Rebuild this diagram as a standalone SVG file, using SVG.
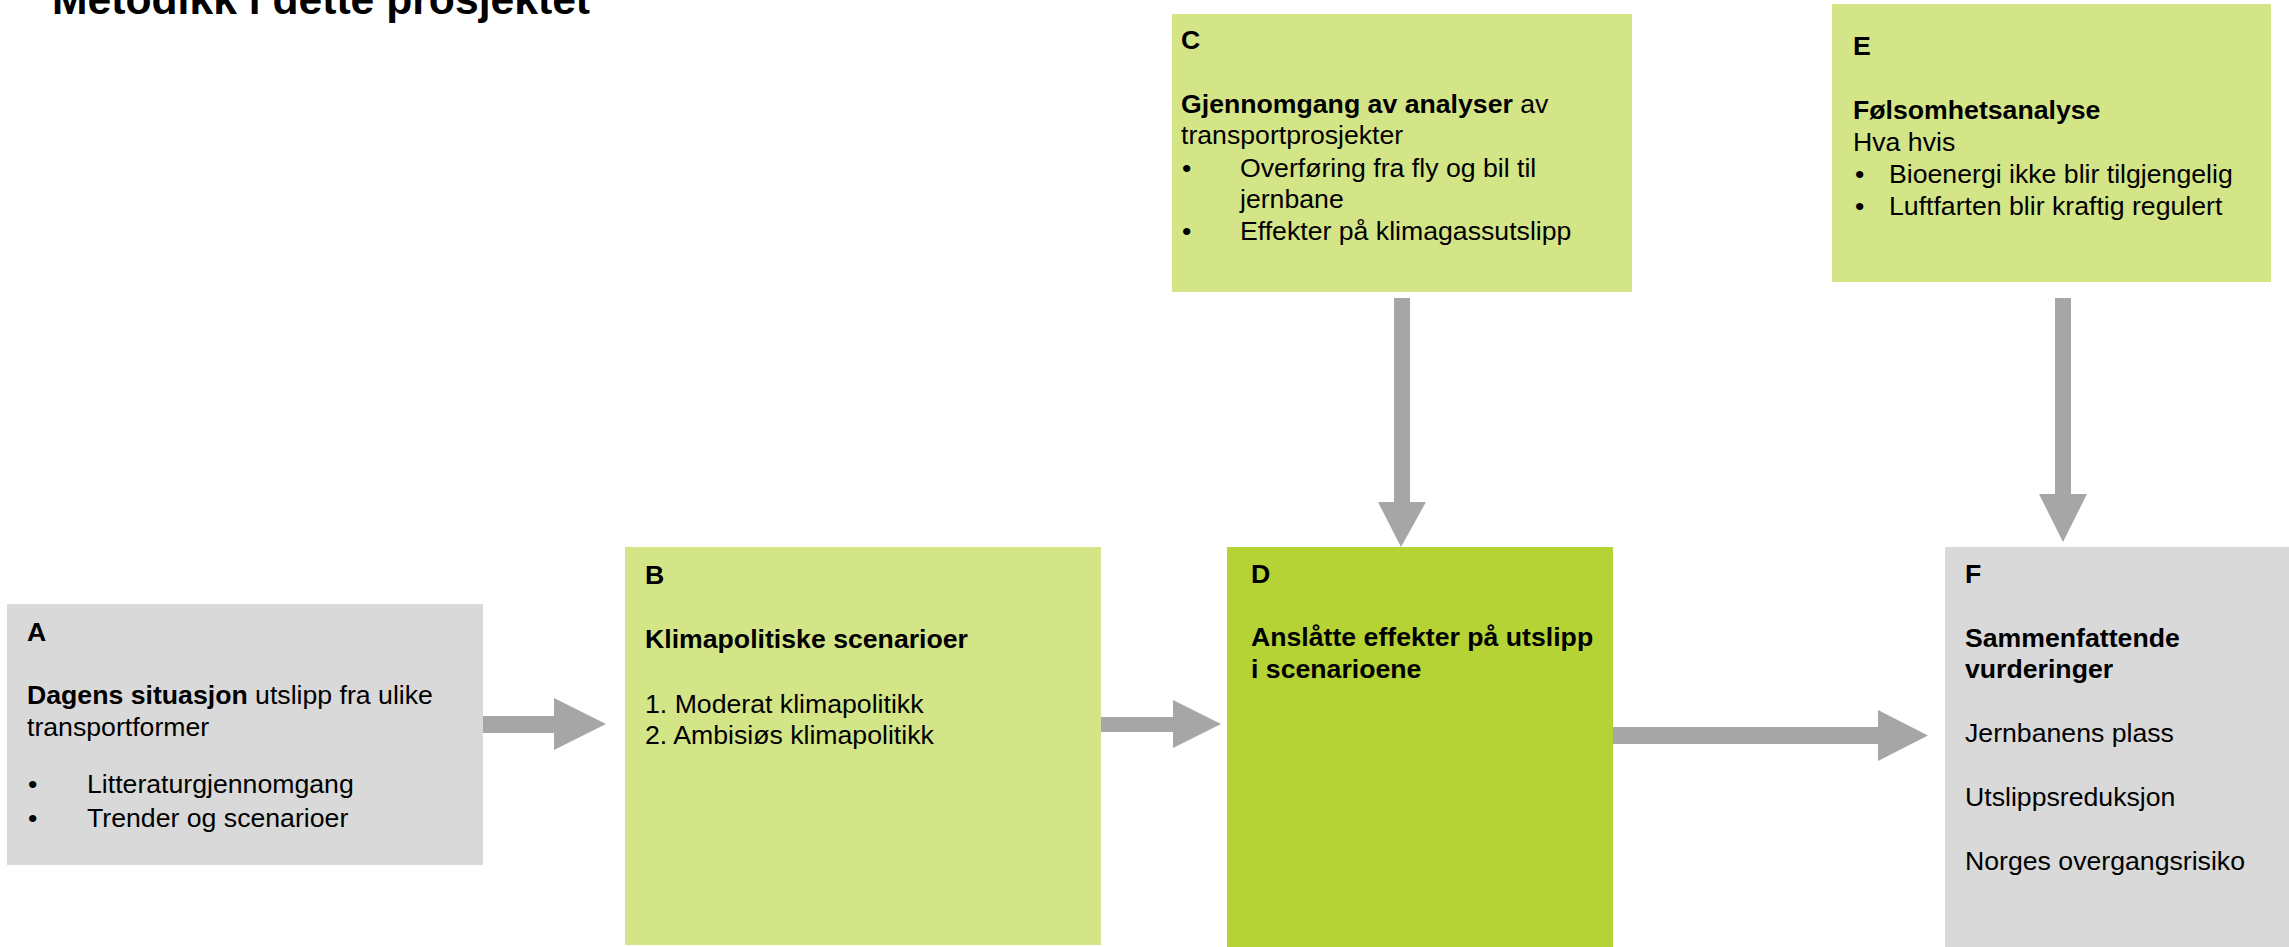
<svg xmlns="http://www.w3.org/2000/svg" width="2289" height="947" viewBox="0 0 2289 947">
<style>
text{font-family:"Liberation Sans",Arial,sans-serif;font-size:26.67px;fill:#000}
.b{font-weight:bold}
.t{font-size:42.67px;font-weight:bold}
.gray{fill:#D9D9D9}
.lg{fill:#D4E587}
.dg{fill:#B5D334}
.arr{fill:#A6A6A6}
</style>
<rect width="2289" height="947" fill="#FFFFFF"/>
<text class="t" x="52" y="14">Metodikk i dette prosjektet</text>
<g id="connectors">
<polygon class="arr" points="483,716 554,716 554,698 606,724 554,750 554,733 483,733"/>
<polygon class="arr" points="1101,717 1173,717 1173,700 1221,724 1173,748 1173,732 1101,732"/>
<polygon class="arr" points="1613,727 1878,727 1878,710 1928,735.5 1878,761 1878,744 1613,744"/>
<polygon class="arr" points="1394,298 1410,298 1410,502 1426,502 1401,547 1378,502 1394,502"/>
<polygon class="arr" points="2055,298 2071,298 2071,494 2087,494 2063,542 2039,494 2055,494"/>
</g>
<g id="nodeA">
<rect class="gray" x="7" y="604" width="476" height="261"/>
<text class="b" x="27" y="641">A</text>
<text x="27" y="704"><tspan class="b">Dagens situasjon</tspan> utslipp fra ulike</text>
<text x="27" y="736">transportformer</text>
<text x="28" y="793">•</text><text x="87" y="793">Litteraturgjennomgang</text>
<text x="28" y="827">•</text><text x="87" y="827">Trender og scenarioer</text>
</g>
<g id="nodeB">
<rect class="lg" x="625" y="547" width="476" height="398"/>
<text class="b" x="645" y="584">B</text>
<text class="b" x="645" y="648">Klimapolitiske scenarioer</text>
<text x="645" y="713">1. Moderat klimapolitikk</text>
<text x="645" y="744">2. Ambisiøs klimapolitikk</text>
</g>
<g id="nodeC">
<rect class="lg" x="1172" y="14" width="460" height="278"/>
<text class="b" x="1181" y="49">C</text>
<text x="1181" y="113"><tspan class="b">Gjennomgang av analyser</tspan> av</text>
<text x="1181" y="144">transportprosjekter</text>
<text x="1182" y="177">•</text><text x="1240" y="177">Overføring fra fly og bil til</text>
<text x="1240" y="208">jernbane</text>
<text x="1182" y="240">•</text><text x="1240" y="240">Effekter på klimagassutslipp</text>
</g>
<g id="nodeD">
<rect class="dg" x="1227" y="547" width="386" height="400"/>
<text class="b" x="1251" y="583">D</text>
<text class="b" x="1251" y="646">Anslåtte effekter på utslipp</text>
<text class="b" x="1251" y="678">i scenarioene</text>
</g>
<g id="nodeE">
<rect class="lg" x="1832" y="4" width="439" height="278"/>
<text class="b" x="1853" y="55">E</text>
<text class="b" x="1853" y="119">Følsomhetsanalyse</text>
<text x="1853" y="151">Hva hvis</text>
<text x="1855" y="183">•</text><text x="1889" y="183">Bioenergi ikke blir tilgjengelig</text>
<text x="1855" y="215">•</text><text x="1889" y="215">Luftfarten blir kraftig regulert</text>
</g>
<g id="nodeF">
<rect class="gray" x="1945" y="547" width="344" height="400"/>
<text class="b" x="1965" y="583">F</text>
<text class="b" x="1965" y="647">Sammenfattende</text>
<text class="b" x="1965" y="678">vurderinger</text>
<text x="1965" y="742">Jernbanens plass</text>
<text x="1965" y="806">Utslippsreduksjon</text>
<text x="1965" y="870">Norges overgangsrisiko</text>
</g>
</svg>
